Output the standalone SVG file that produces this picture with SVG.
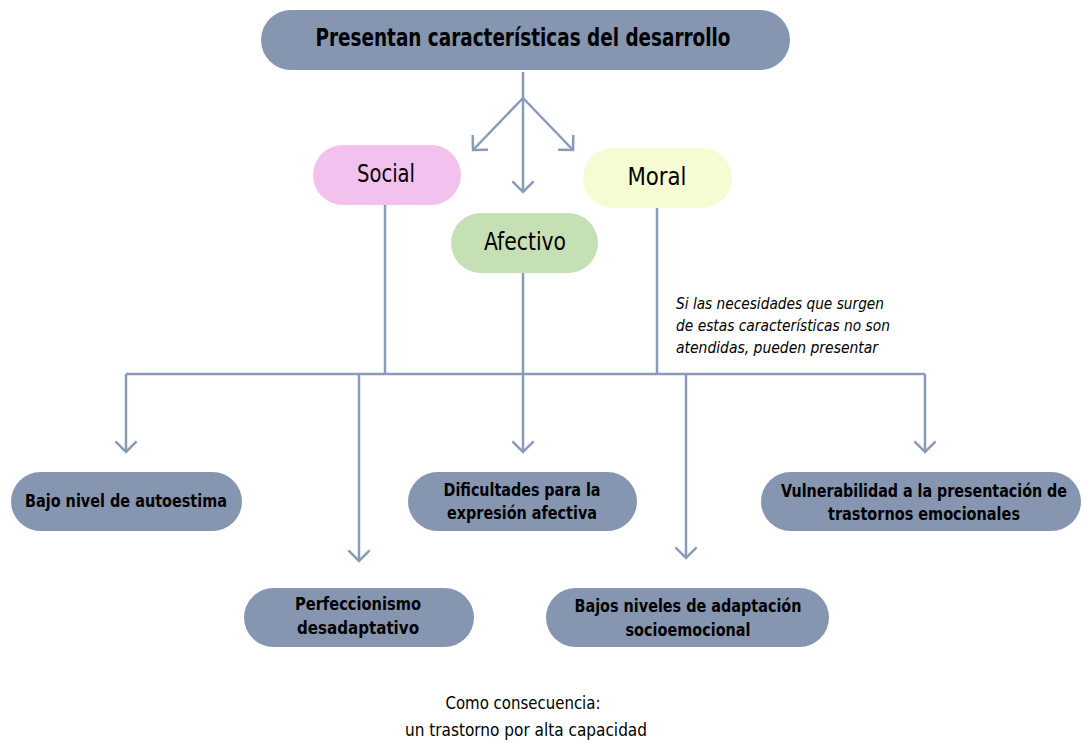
<svg xmlns="http://www.w3.org/2000/svg" width="1082" height="743" viewBox="0 0 1082 743">
  <defs>
    <marker id="chev" markerUnits="userSpaceOnUse" viewBox="-12 -12 14 24" markerWidth="14" markerHeight="24" refX="0" refY="0" orient="auto">
      <path d="M-10.6,-10.6 L0,0 L-10.6,10.6" fill="none" stroke="#8A9BB7" stroke-width="2.5"/>
    </marker>
    <style>
      .pill { fill: #8696B0; }
      .lbl { font-family: "DejaVu Sans Condensed", "DejaVu Sans", sans-serif; fill: #000; text-anchor: middle; }
      .b { font-weight: bold; font-size: 17px; }
      .cat { font-size: 24px; }
      .wire { fill: none; stroke: #8A9BB7; stroke-width: 2.5; }
      .arr { marker-end: url(#chev); }
      .note { font-family: "DejaVu Sans Condensed", "DejaVu Sans", sans-serif; font-style: italic; font-size: 16px; fill: #000; }
      .foot { font-family: "DejaVu Sans Condensed", "DejaVu Sans", sans-serif; font-size: 17px; fill: #000; text-anchor: middle; }
    </style>
  </defs>
  <rect width="1082" height="743" fill="#ffffff"/>

  <!-- connectors -->
  <g id="connectors">
    <path class="wire arr" d="M523,72 V192"/>
    <path class="wire arr" d="M523,98 L473,150"/>
    <path class="wire arr" d="M523,98 L573,150"/>
    <path class="wire" d="M385,205 V374"/>
    <path class="wire" d="M523,273 V374"/>
    <path class="wire" d="M657,208 V374"/>
    <path class="wire" d="M126,374 H925"/>
    <path class="wire arr" d="M126,374 V452"/>
    <path class="wire arr" d="M359,374 V561"/>
    <path class="wire arr" d="M523,374 V452"/>
    <path class="wire arr" d="M686,374 V558"/>
    <path class="wire arr" d="M925,374 V452"/>
  </g>

  <g id="n-top">
    <rect class="pill" x="261" y="10" width="529" height="60" rx="30"/>
    <text class="lbl" x="523" y="46" font-size="24" font-weight="bold" textLength="415" lengthAdjust="spacingAndGlyphs">Presentan características del desarrollo</text>
  </g>

  <g id="n-social">
    <rect x="313" y="145" width="148" height="60" rx="30" fill="#F2C1EE"/>
    <text class="lbl cat" x="386" y="182" textLength="58" lengthAdjust="spacingAndGlyphs">Social</text>
  </g>

  <g id="n-moral">
    <rect x="583" y="148" width="149" height="60" rx="30" fill="#F7FBD3"/>
    <text class="lbl cat" x="657" y="185" textLength="59" lengthAdjust="spacingAndGlyphs">Moral</text>
  </g>

  <g id="n-afectivo">
    <rect x="451" y="213" width="147" height="60" rx="30" fill="#C6E0B5"/>
    <text class="lbl cat" x="525" y="250" textLength="82" lengthAdjust="spacingAndGlyphs">Afectivo</text>
  </g>

  <g id="note">
    <text class="note" x="676" y="309" textLength="208" lengthAdjust="spacingAndGlyphs">Si las necesidades que surgen</text>
    <text class="note" x="676" y="331" textLength="214" lengthAdjust="spacingAndGlyphs">de estas características no son</text>
    <text class="note" x="676" y="353" textLength="202" lengthAdjust="spacingAndGlyphs">atendidas, pueden presentar</text>
  </g>

  <g id="n-autoestima">
    <rect class="pill" x="11" y="472" width="231" height="59" rx="29.5"/>
    <text class="lbl b" x="126" y="507" textLength="202" lengthAdjust="spacingAndGlyphs">Bajo nivel de autoestima</text>
  </g>

  <g id="n-expresion">
    <rect class="pill" x="408" y="472" width="229" height="59" rx="29.5"/>
    <text class="lbl b" x="522" y="496" textLength="157" lengthAdjust="spacingAndGlyphs">Dificultades para la</text>
    <text class="lbl b" x="522" y="519" textLength="150" lengthAdjust="spacingAndGlyphs">expresión afectiva</text>
  </g>

  <g id="n-vulnerabilidad">
    <rect class="pill" x="761" y="472" width="320" height="59" rx="29.5"/>
    <text class="lbl b" x="924" y="497" font-size="16" textLength="286" lengthAdjust="spacingAndGlyphs">Vulnerabilidad a la presentación de</text>
    <text class="lbl b" x="924" y="520" textLength="192" lengthAdjust="spacingAndGlyphs">trastornos emocionales</text>
  </g>

  <g id="n-perfeccionismo">
    <rect class="pill" x="244" y="588" width="230" height="59" rx="29.5"/>
    <text class="lbl b" x="358" y="610" textLength="126" lengthAdjust="spacingAndGlyphs">Perfeccionismo</text>
    <text class="lbl b" x="358" y="634" textLength="122" lengthAdjust="spacingAndGlyphs">desadaptativo</text>
  </g>

  <g id="n-adaptacion">
    <rect class="pill" x="546" y="588" width="283" height="59" rx="29.5"/>
    <text class="lbl b" x="688" y="612" textLength="227" lengthAdjust="spacingAndGlyphs">Bajos niveles de adaptación</text>
    <text class="lbl b" x="688" y="636" textLength="125" lengthAdjust="spacingAndGlyphs">socioemocional</text>
  </g>

  <g id="conclusion">
    <text class="foot" x="523" y="709" textLength="155" lengthAdjust="spacingAndGlyphs">Como consecuencia:</text>
    <text class="foot" x="526" y="736" textLength="242" lengthAdjust="spacingAndGlyphs">un trastorno por alta capacidad</text>
  </g>
</svg>
